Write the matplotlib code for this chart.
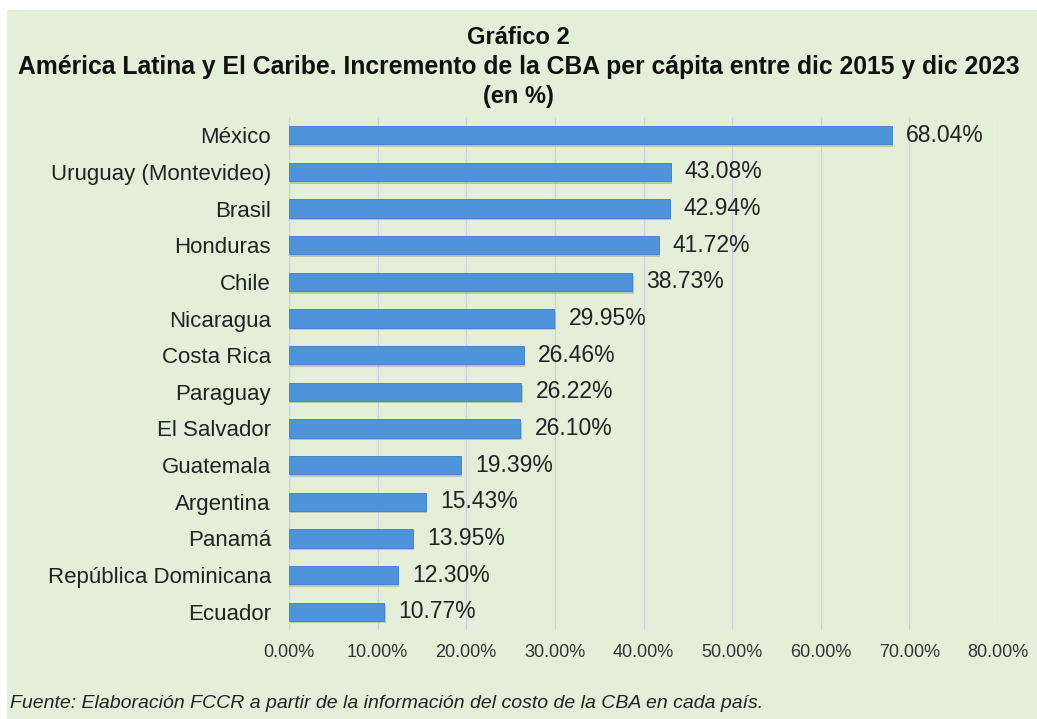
import matplotlib
matplotlib.use("Agg")
import matplotlib.pyplot as plt
from matplotlib.patches import Rectangle
import matplotlib.patheffects as pe

countries = ["México", "Uruguay (Montevideo)", "Brasil", "Honduras", "Chile", "Nicaragua",
             "Costa Rica", "Paraguay", "El Salvador", "Guatemala", "Argentina", "Panamá",
             "República Dominicana", "Ecuador"]
values = [68.04, 43.08, 42.94, 41.72, 38.73, 29.95, 26.46, 26.22, 26.10, 19.39, 15.43, 13.95, 12.30, 10.77]
xticks = [0, 10, 20, 30, 40, 50, 60, 70, 80]

plt.rcParams['font.family'] = ['Liberation Sans', 'DejaVu Sans']

W, H = 1037, 719
fig = plt.figure(figsize=(W/100, H/100), dpi=100)
fig.patch.set_facecolor('white')
bg = '#e3efd9'
fig.patches.append(Rectangle((7/W, 0), 1 - 7/W, 1 - 10/H, transform=fig.transFigure,
                             facecolor=bg, edgecolor='none', zorder=-10))

left, right = 289/W, 998/W
top, bottom = 1 - 117/H, 1 - 630/H
ax = fig.add_axes([left, bottom, right - left, top - bottom])
ax.set_facecolor('none')

y = list(range(len(countries)))
bars = ax.barh(y, values, height=0.5, color='#4f94da', edgecolor='#3f7fc6', linewidth=0.6, zorder=3)
for b in bars:
    b.set_path_effects([pe.SimplePatchShadow(offset=(1.0, -1.8), shadow_rgbFace='#8a9a80', alpha=0.45),
                        pe.Normal()])
for yi, v in zip(y, values):
    ax.text(v + 1.6, yi, f"{v:.2f}%", va='center', ha='left', fontsize=16.5, color='#222222', zorder=4)

ax.set_xlim(0, 80)
ax.set_ylim(len(countries) - 0.5, -0.5)
ax.set_yticks(y)
ax.set_yticklabels(countries, fontsize=16, color='#222222')
ax.set_xticks(xticks)
ax.set_xticklabels([f"{t:.2f}%" for t in xticks], fontsize=13, color='#333333')
ax.tick_params(axis='both', length=0)
ax.tick_params(axis='x', pad=10)
ax.tick_params(axis='y', pad=13)
ax.grid(axis='x', color='#d0d0e0', linewidth=0.9, zorder=0)
for s in ax.spines.values():
    s.set_visible(False)
ax.axvline(0, color='#d0d0e0', linewidth=0.9, zorder=1)

fig.text(0.5, 1 - 37/H, "Gráfico 2", ha='center', va='center', fontsize=17, fontweight='bold', color='#111111')
fig.text(0.5, 1 - 67/H, "América Latina y El Caribe. Incremento de la CBA per cápita entre dic 2015 y dic 2023",
         ha='center', va='center', fontsize=17.8, fontweight='bold', color='#111111')
fig.text(0.5, 1 - 96/H, "(en %)", ha='center', va='center', fontsize=17, fontweight='bold', color='#111111')
fig.text(10/W, 1 - 703/H, "Fuente: Elaboración FCCR a partir de la información del costo de la CBA en cada país.",
         ha='left', va='center', fontsize=14, style='italic', color='#222222')

fig.savefig("out.png", dpi=100, facecolor=fig.get_facecolor())
